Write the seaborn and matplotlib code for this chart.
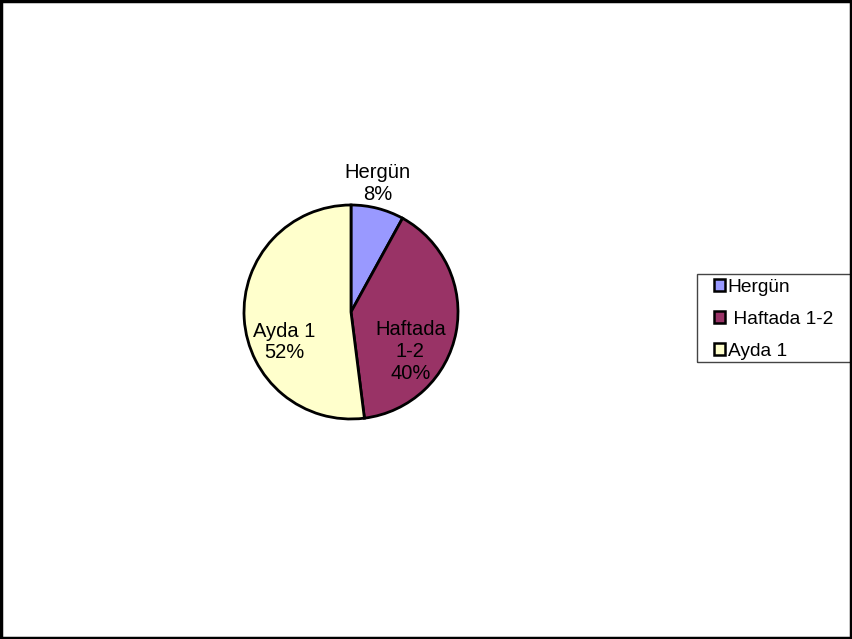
import matplotlib
matplotlib.use("Agg")
import matplotlib.pyplot as plt
import seaborn as sns
from matplotlib.patches import Rectangle

sns.set_theme(style="white")
plt.rcParams['font.family'] = ['Liberation Sans', 'DejaVu Sans']
plt.rcParams['text.color'] = 'black'

categories = ["Hergün", "Haftada 1-2", "Ayda 1"]
values = [8, 40, 52]
legend_labels = ["Hergün", " Haftada 1-2", "Ayda 1"]
slice_labels = ["Hergün\n8%", "Haftada\n1-2\n40%", "Ayda 1\n52%"]
colors = ["#9999FF", "#993366", "#FFFFCC"]

W, H = 853, 639
fig = plt.figure(figsize=(W / 100, H / 100), dpi=100)
fig.patch.set_facecolor("white")

cx, cy, r = 351, 312, 107
ax = fig.add_axes([(cx - r) / W, (H - cy - r) / H, 2 * r / W, 2 * r / H])
wedges, _ = ax.pie(values, colors=colors, startangle=90, counterclock=False,
                   radius=1, wedgeprops=dict(edgecolor="black", linewidth=2))
ax.set_xlim(-1, 1)
ax.set_ylim(-1, 1)
ax.set_aspect("equal")
ax.axis("off")

label_pos = [(0.25, 1.20), (0.555, -0.37), (-0.62, -0.28)]
for (x, y), t in zip(label_pos, slice_labels):
    ax.text(x, y, t, ha="center", va="center", fontsize=14.5,
            linespacing=1.18, color="black", clip_on=False)

leg = fig.legend(wedges, legend_labels, loc="upper left",
                 bbox_to_anchor=(714 / W, 1 - 279 / H), frameon=False,
                 fontsize=13.8, handlelength=0.6, handleheight=0.6,
                 handletextpad=0.12, labelspacing=0.78, borderpad=0.0,
                 borderaxespad=0.0)
for h in leg.legend_handles:
    h.set_edgecolor("black")
    h.set_linewidth(1.8)
for t in leg.get_texts():
    t.set_color("black")

fig.patches.append(Rectangle((697 / W, 1 - 362 / H), 200 / W, 88 / H,
                             transform=fig.transFigure, fill=False,
                             edgecolor="#444444", linewidth=1))
fig.patches.append(Rectangle((0.001, 0.002), 0.997, 0.996,
                             transform=fig.transFigure, fill=False,
                             edgecolor="black", linewidth=2.5))

fig.savefig("out.png", dpi=100)
